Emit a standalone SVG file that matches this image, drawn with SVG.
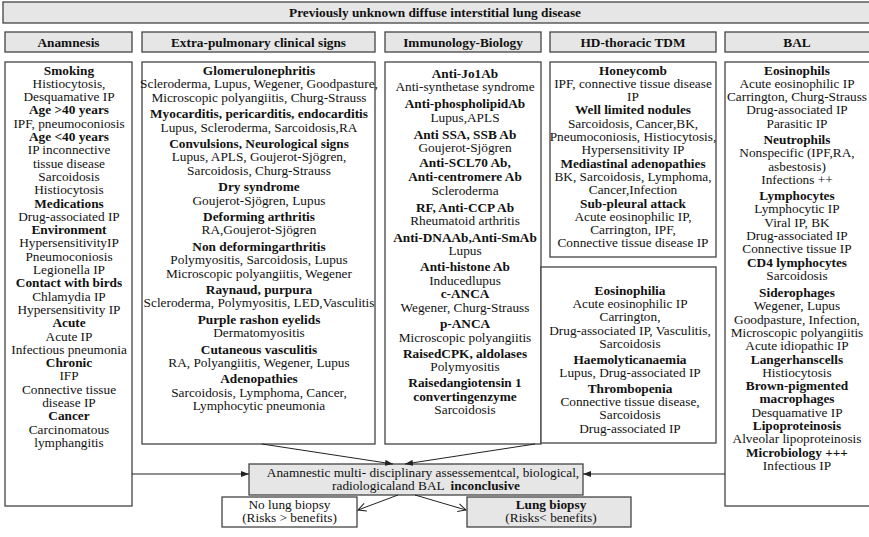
<svg xmlns="http://www.w3.org/2000/svg" width="869" height="537" viewBox="0 0 869 537">
<style>
.t{font-family:"Liberation Serif","Times New Roman",serif;font-size:13.3px;fill:#111;text-anchor:middle}
.b{font-weight:bold}
.box{fill:#fff;stroke:#444;stroke-width:1.3}
.hd{fill:#e6e6e6;stroke:#444;stroke-width:1.3}
.ln{stroke:#222;stroke-width:1;fill:none}
</style>
<defs>
<marker id="af" viewBox="0 0 8 6" refX="8" refY="3" markerWidth="8" markerHeight="6" orient="auto" markerUnits="userSpaceOnUse"><path d="M0,0 L8,3 L0,6 z" fill="#222"/></marker>
<marker id="ao" viewBox="0 0 10 10" refX="9" refY="5" markerWidth="10" markerHeight="10" orient="auto" markerUnits="userSpaceOnUse"><path d="M1,1 L9,5 L1,9" fill="none" stroke="#222" stroke-width="1"/></marker>
</defs>
<rect width="869" height="537" fill="#fff"/>

<g id="title"><rect class="hd" x="3" y="2" width="870" height="21"/><text class="t b" x="435" y="17">Previously unknown diffuse interstitial lung disease</text></g>

<g id="h-anamnesis"><rect class="hd" x="5" y="32" width="127" height="20"/><text class="t b" x="68.5" y="46.5">Anamnesis</text></g>
<g id="h-extra"><rect class="hd" x="142" y="32" width="233" height="20"/><text class="t b" x="258.5" y="46.5">Extra-pulmonary clinical signs</text></g>
<g id="h-immuno"><rect class="hd" x="385" y="32" width="156" height="20"/><text class="t b" x="463" y="46.5">Immunology-Biology</text></g>
<g id="h-hd"><rect class="hd" x="550" y="32" width="166" height="20"/><text class="t b" x="633" y="46.5">HD-thoracic TDM</text></g>
<g id="h-bal"><rect class="hd" x="725" y="32" width="148" height="20"/><text class="t b" x="797" y="46.5">BAL</text></g>

<g id="anamnesis"><rect class="box" x="5" y="62" width="127" height="444"/>
<text class="t b" x="69" y="74.5">Smoking</text>
<text class="t" x="69" y="87.8">Histiocytosis,</text>
<text class="t" x="69" y="101.1">Desquamative IP</text>
<text class="t b" x="69" y="114.4">Age &gt;40 years</text>
<text class="t" x="69" y="127.7">IPF, pneumoconiosis</text>
<text class="t b" x="69" y="141">Age &lt;40 years</text>
<text class="t" x="69" y="154.3">IP inconnective</text>
<text class="t" x="69" y="167.6">tissue disease</text>
<text class="t" x="69" y="180.9">Sarcoidosis</text>
<text class="t" x="69" y="194.2">Histiocytosis</text>
<text class="t b" x="69" y="207.5">Medications</text>
<text class="t" x="69" y="220.8">Drug-associated IP</text>
<text class="t b" x="69" y="234.1">Environment</text>
<text class="t" x="69" y="247.4">HypersensitivityIP</text>
<text class="t" x="69" y="260.7">Pneumoconiosis</text>
<text class="t" x="69" y="274">Legionella IP</text>
<text class="t b" x="69" y="287.3">Contact with birds</text>
<text class="t" x="69" y="300.6">Chlamydia IP</text>
<text class="t" x="69" y="313.9">Hypersensitivity IP</text>
<text class="t b" x="69" y="327.2">Acute</text>
<text class="t" x="69" y="340.5">Acute IP</text>
<text class="t" x="69" y="353.8">Infectious pneumonia</text>
<text class="t b" x="69" y="367.1">Chronic</text>
<text class="t" x="69" y="380.4">IFP</text>
<text class="t" x="69" y="393.7">Connective tissue</text>
<text class="t" x="69" y="407">disease IP</text>
<text class="t b" x="69" y="420.3">Cancer</text>
<text class="t" x="69" y="433.6">Carcinomatous</text>
<text class="t" x="69" y="446.9">lymphangitis</text>
</g>

<g id="extra"><rect class="box" x="142" y="62" width="233" height="382"/>
<text class="t b" x="259" y="75">Glomerulonephritis</text>
<text class="t" x="259" y="88.4">Scleroderma, Lupus, Wegener, Goodpasture,</text>
<text class="t" x="259" y="101.8">Microscopic polyangiitis, Churg-Strauss</text>
<text class="t b" x="259" y="118.2">Myocarditis, pericarditis, endocarditis</text>
<text class="t" x="259" y="131.6">Lupus, Scleroderma, Sarcoidosis,RA</text>
<text class="t b" x="259" y="148">Convulsions, Neurological signs</text>
<text class="t" x="259" y="161.4">Lupus, APLS, Goujerot-Sjögren,</text>
<text class="t" x="259" y="174.8">Sarcoidosis, Churg-Strauss</text>
<text class="t b" x="259" y="191.2">Dry syndrome</text>
<text class="t" x="259" y="204.6">Goujerot-Sjögren, Lupus</text>
<text class="t b" x="259" y="221">Deforming arthritis</text>
<text class="t" x="259" y="234.4">RA,Goujerot-Sjögren</text>
<text class="t b" x="259" y="250.8">Non deformingarthritis</text>
<text class="t" x="259" y="264.2">Polymyositis, Sarcoidosis, Lupus</text>
<text class="t" x="259" y="277.6">Microscopic polyangiitis, Wegener</text>
<text class="t b" x="259" y="294">Raynaud, purpura</text>
<text class="t" x="259" y="307.4">Scleroderma, Polymyositis, LED,Vasculitis</text>
<text class="t b" x="259" y="323.8">Purple rashon eyelids</text>
<text class="t" x="259" y="337.2">Dermatomyositis</text>
<text class="t b" x="259" y="353.6">Cutaneous vasculitis</text>
<text class="t" x="259" y="367">RA, Polyangiitis, Wegener, Lupus</text>
<text class="t b" x="259" y="383.4">Adenopathies</text>
<text class="t" x="259" y="396.8">Sarcoidosis, Lymphoma, Cancer,</text>
<text class="t" x="259" y="410.2">Lymphocytic pneumonia</text>
</g>

<g id="immuno"><rect class="box" x="385" y="62" width="156" height="382"/>
<text class="t b" x="465" y="77.5">Anti-Jo1Ab</text>
<text class="t" x="465" y="90.9">Anti-synthetase syndrome</text>
<text class="t b" x="465" y="108.3">Anti-phospholipidAb</text>
<text class="t" x="465" y="121.7">Lupus,APLS</text>
<text class="t b" x="465" y="138.5">Anti SSA, SSB Ab</text>
<text class="t" x="465" y="151.9">Goujerot-Sjögren</text>
<text class="t b" x="465" y="166.5">Anti-SCL70 Ab,</text>
<text class="t b" x="465" y="180.5">Anti-centromere Ab</text>
<text class="t" x="465" y="194.5">Scleroderma</text>
<text class="t b" x="465" y="211.5">RF, Anti-CCP Ab</text>
<text class="t" x="465" y="224.9">Rheumatoid arthritis</text>
<text class="t b" x="465" y="241.5">Anti-DNAAb,Anti-SmAb</text>
<text class="t" x="465" y="254.9">Lupus</text>
<text class="t b" x="465" y="270.5">Anti-histone Ab</text>
<text class="t" x="465" y="284.5">Inducedlupus</text>
<text class="t b" x="465" y="297.9">c-ANCA</text>
<text class="t" x="465" y="311.5">Wegener, Churg-Strauss</text>
<text class="t b" x="465" y="327.5">p-ANCA</text>
<text class="t" x="465" y="341.5">Microscopic polyangiitis</text>
<text class="t b" x="465" y="357.5">RaisedCPK, aldolases</text>
<text class="t" x="465" y="370.9">Polymyositis</text>
<text class="t b" x="465" y="387.3">Raisedangiotensin 1</text>
<text class="t b" x="465" y="400.7">convertingenzyme</text>
<text class="t" x="465" y="414.1">Sarcoidosis</text>
</g>

<g id="hd-tdm"><rect class="box" x="550" y="62" width="166" height="195"/>
<text class="t b" x="633" y="74.5">Honeycomb</text>
<text class="t" x="633" y="87.8">IPF, connective tissue disease</text>
<text class="t" x="633" y="101.1">IP</text>
<text class="t b" x="633" y="114.4">Well limited nodules</text>
<text class="t" x="633" y="127.7">Sarcoidosis, Cancer,BK,</text>
<text class="t" x="633" y="141">Pneumoconiosis, Histiocytosis,</text>
<text class="t" x="633" y="154.3">Hypersensitivity IP</text>
<text class="t b" x="633" y="167.6">Mediastinal adenopathies</text>
<text class="t" x="633" y="180.9">BK, Sarcoidosis, Lymphoma,</text>
<text class="t" x="633" y="194.2">Cancer,Infection</text>
<text class="t b" x="633" y="207.5">Sub-pleural attack</text>
<text class="t" x="633" y="220.8">Acute eosinophilic IP,</text>
<text class="t" x="633" y="234.1">Carrington, IPF,</text>
<text class="t" x="633" y="247.4">Connective tissue disease IP</text>
</g>

<g id="biology"><rect class="box" x="541" y="267" width="175" height="176"/>
<text class="t b" x="630" y="294.5">Eosinophilia</text>
<text class="t" x="630" y="307.9">Acute eosinophilic IP</text>
<text class="t" x="630" y="321.3">Carrington,</text>
<text class="t" x="630" y="334.7">Drug-associated IP, Vasculitis,</text>
<text class="t" x="630" y="348.1">Sarcoidosis</text>
<text class="t b" x="630" y="363.5">Haemolyticanaemia</text>
<text class="t" x="630" y="376.9">Lupus, Drug-associated IP</text>
<text class="t b" x="630" y="392.5">Thrombopenia</text>
<text class="t" x="630" y="405.9">Connective tissue disease,</text>
<text class="t" x="630" y="419.3">Sarcoidosis</text>
<text class="t" x="630" y="432.7">Drug-associated IP</text>
</g>

<g id="bal"><rect class="box" x="725" y="62" width="148" height="444"/>
<text class="t b" x="797" y="74.5">Eosinophils</text>
<text class="t" x="797" y="87.8">Acute eosinophilic IP</text>
<text class="t" x="797" y="101.1">Carrington, Churg-Strauss</text>
<text class="t" x="797" y="114.4">Drug-associated IP</text>
<text class="t" x="797" y="127.7">Parasitic IP</text>
<text class="t b" x="797" y="144">Neutrophils</text>
<text class="t" x="797" y="157.3">Nonspecific (IPF,RA,</text>
<text class="t" x="797" y="170.6">asbestosis)</text>
<text class="t" x="797" y="183.9">Infections ++</text>
<text class="t b" x="797" y="200">Lymphocytes</text>
<text class="t" x="797" y="213.3">Lymphocytic IP</text>
<text class="t" x="797" y="226.6">Viral IP, BK</text>
<text class="t" x="797" y="239.9">Drug-associated IP</text>
<text class="t" x="797" y="253.2">Connective tissue IP</text>
<text class="t b" x="797" y="266.5">CD4 lymphocytes</text>
<text class="t" x="797" y="279.8">Sarcoidosis</text>
<text class="t b" x="797" y="297">Siderophages</text>
<text class="t" x="797" y="310.3">Wegener, Lupus</text>
<text class="t" x="797" y="323.6">Goodpasture, Infection,</text>
<text class="t" x="797" y="336.9">Microscopic polyangiitis</text>
<text class="t" x="797" y="350.2">Acute idiopathic IP</text>
<text class="t b" x="797" y="363.5">Langerhanscells</text>
<text class="t" x="797" y="376.8">Histiocytosis</text>
<text class="t b" x="797" y="390.1">Brown-pigmented</text>
<text class="t b" x="797" y="403.4">macrophages</text>
<text class="t" x="797" y="416.7">Desquamative IP</text>
<text class="t b" x="797" y="430">Lipoproteinosis</text>
<text class="t" x="797" y="443.3">Alveolar lipoproteinosis</text>
<text class="t b" x="797" y="456.6">Microbiology +++</text>
<text class="t" x="797" y="469.9">Infectious IP</text>
</g>

<g id="center"><rect class="hd" x="249" y="464" width="334" height="31"/>
<text class="t" x="423" y="477">Anamnestic multi- disciplinary assessementcal, biological,</text>
<text class="t" x="426" y="490.4">radiologicaland BAL <tspan class="b" dx="3">inconclusive</tspan></text>
</g>

<g id="no-biopsy"><rect class="box" x="222" y="497" width="135" height="30"/>
<text class="t" x="289.5" y="508.5">No lung biopsy</text>
<text class="t" x="289.5" y="522">(Risks &gt; benefits)</text>
</g>

<g id="biopsy"><rect class="hd" x="467" y="497" width="164" height="30"/>
<text class="t b" x="551" y="508.5">Lung biopsy</text>
<text class="t" x="551" y="522">(Risks&lt; benefits)</text>
</g>

<g id="connectors">
<line class="ln" x1="132" y1="474" x2="249" y2="474" marker-end="url(#af)"/>
<line class="ln" x1="725" y1="474" x2="583" y2="474" marker-end="url(#af)"/>
<line class="ln" x1="262" y1="444" x2="393" y2="464" marker-end="url(#af)"/>
<line class="ln" x1="535" y1="444" x2="405" y2="464" marker-end="url(#af)"/>
<line class="ln" x1="398" y1="495" x2="358" y2="510" marker-end="url(#ao)"/>
<line class="ln" x1="415" y1="495" x2="466" y2="510" marker-end="url(#ao)"/>
</g>
</svg>
